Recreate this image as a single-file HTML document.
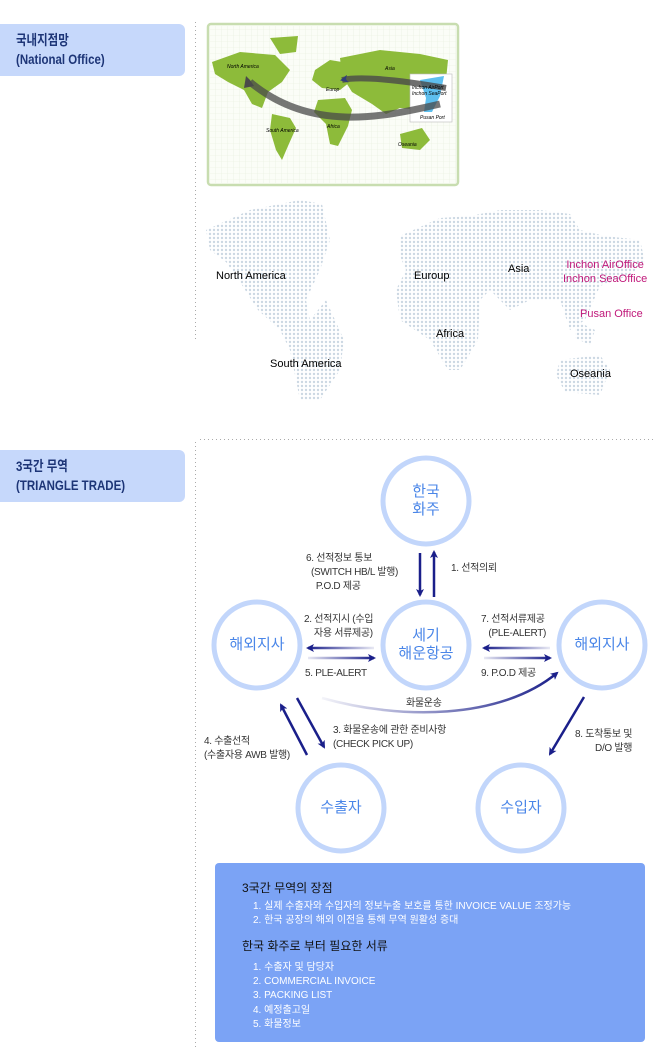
<!DOCTYPE html>
<html><head><meta charset="utf-8"><style>
*{margin:0;padding:0;box-sizing:border-box}
body{width:660px;height:1060px;background:#fff;position:relative;overflow:hidden;font-family:"Liberation Sans","Noto Sans CJK KR",sans-serif}
.tab{position:absolute;left:0;width:185px;height:52px;background:#c6d8fb;border-radius:0 6px 6px 0;color:#1d3577;font-weight:bold;font-size:14px;line-height:19px;padding:7px 0 0 16px}
.tab span{display:inline-block;transform:scaleX(0.82);transform-origin:left;white-space:nowrap}
.t{position:absolute;white-space:nowrap}
</style></head><body>
<div class="tab" style="top:24px"><span>국내지점망</span><br><span>(National Office)</span></div>
<div class="tab" style="top:450px"><span>3국간 무역</span><br><span>(TRIANGLE TRADE)</span></div>

<svg width="660" height="1060" style="position:absolute;left:0;top:0">
<defs>
<pattern id="grid" width="6" height="6" patternUnits="userSpaceOnUse"><path d="M6 0V6H0" fill="none" stroke="#e6eedc" stroke-width="0.6"/></pattern>
<pattern id="dots" width="4" height="4" patternUnits="userSpaceOnUse"><circle cx="2" cy="2" r="1.2" fill="#ccd8e3"/></pattern>
<marker id="ah" markerWidth="8" markerHeight="8" refX="6" refY="4" orient="auto" markerUnits="userSpaceOnUse"><path d="M0 0L8 4L0 8L2 4z" fill="#1a1f8a"/></marker>
<linearGradient id="gL1" gradientUnits="userSpaceOnUse" x1="308" x2="374" y1="0" y2="0"><stop offset="0" stop-color="#1a1f8a"/><stop offset="1" stop-color="#1a1f8a" stop-opacity="0.1"/></linearGradient>
<linearGradient id="gR1" gradientUnits="userSpaceOnUse" x1="308" x2="374" y1="0" y2="0"><stop offset="0" stop-color="#1a1f8a" stop-opacity="0.1"/><stop offset="1" stop-color="#1a1f8a"/></linearGradient>
<linearGradient id="gL2" gradientUnits="userSpaceOnUse" x1="484" x2="550" y1="0" y2="0"><stop offset="0" stop-color="#1a1f8a"/><stop offset="1" stop-color="#1a1f8a" stop-opacity="0.1"/></linearGradient>
<linearGradient id="gR2" gradientUnits="userSpaceOnUse" x1="484" x2="550" y1="0" y2="0"><stop offset="0" stop-color="#1a1f8a" stop-opacity="0.1"/><stop offset="1" stop-color="#1a1f8a"/></linearGradient>
<linearGradient id="gC" gradientUnits="userSpaceOnUse" x1="322" x2="557" y1="0" y2="0"><stop offset="0" stop-color="#1a1f8a" stop-opacity="0.05"/><stop offset="1" stop-color="#1a1f8a"/></linearGradient>
</defs>
<line x1="195.5" y1="22" x2="195.5" y2="342" stroke="#aaa" stroke-dasharray="1 3"/>
<line x1="195.5" y1="442" x2="195.5" y2="1050" stroke="#aaa" stroke-dasharray="1 3"/>
<line x1="200" y1="439.5" x2="656" y2="439.5" stroke="#aaa" stroke-dasharray="1 3"/>
<rect x="208" y="24" width="250" height="161" rx="3" fill="#fbfdf7" stroke="#c8ddb0" stroke-width="2.5"/>
<rect x="210" y="26" width="246" height="157" fill="url(#grid)"/>
<g fill="#8dbb3a">
<path d="M212 62 L240 52 L275 55 L290 70 L282 82 L268 92 L262 108 L252 104 L244 90 L228 82 L215 74z"/>
<path d="M270 38 L298 36 L296 52 L280 54z"/>
<path d="M272 114 L290 118 L296 128 L288 146 L282 160 L276 150 L270 130z"/>
<path d="M315 70 L330 60 L342 62 L350 82 L340 90 L322 88 L312 80z"/>
<path d="M318 100 L345 98 L352 110 L348 126 L338 146 L330 144 L326 124 L314 112z"/>
<path d="M340 58 L380 50 L420 54 L448 60 L446 80 L430 96 L420 110 L400 108 L386 114 L372 104 L352 92 L342 76z"/>
<path d="M400 134 L422 128 L430 140 L420 150 L402 148z"/>
</g>
<rect x="410" y="74" width="42" height="48" fill="#fff" stroke="#bbb" stroke-width="0.6"/>
<path d="M420 80 L444 76 L440 96 L432 112 L424 112 L426 98z" fill="#5ebfee"/>
<path d="M446 88 C400 80 360 76 342 80" stroke="#4a4a4a" stroke-width="6" fill="none" opacity="0.8" marker-end="url(#ah)"/>
<path d="M440 104 C380 118 310 132 250 82" stroke="#4a4a4a" stroke-width="7" fill="none" opacity="0.75"/>
<path d="M250 80 l-4 -4 l-2 12 l10 -2z" fill="#4a4a4a"/>
<g fill="url(#dots)">
<path d="M206 230 L250 210 L300 200 L322 204 L330 240 L320 270 L306 300 L310 320 L326 300 L344 340 L340 370 L320 400 L300 400 L290 350 L280 330 L258 310 L240 282 L226 262 L210 250z"/>
<path d="M400 236 L440 218 L470 216 L500 210 L540 210 L570 214 L580 230 L605 236 L640 240 L645 262 L630 275 L600 286 L585 320 L570 330 L560 300 L530 300 L510 310 L490 290 L480 300 L478 340 L460 370 L448 370 L430 340 L400 320 L396 290 L406 270 L400 256z"/>
<path d="M560 360 L600 355 L610 370 L600 395 L565 392 L556 375z"/>
<path d="M575 320 L595 330 L590 345 L575 338z"/>
</g>
<g fill="#fff" stroke="#c2d6fb" stroke-width="5">
<circle cx="426" cy="501" r="43"/>
<circle cx="426" cy="645" r="43"/>
<circle cx="257" cy="645" r="43"/>
<circle cx="602" cy="645" r="43"/>
<circle cx="341" cy="808" r="43"/>
<circle cx="521" cy="808" r="43"/>
</g>
<g stroke-width="2.5" fill="none">
<line x1="420" y1="553" x2="420" y2="595" stroke="#1a1f8a" marker-end="url(#ah)"/>
<line x1="434" y1="597" x2="434" y2="552" stroke="#1a1f8a" marker-end="url(#ah)"/>
<line x1="374" y1="648" x2="308" y2="648" stroke="url(#gL1)" marker-end="url(#ah)"/>
<line x1="308" y1="658" x2="374" y2="658" stroke="url(#gR1)" marker-end="url(#ah)"/>
<line x1="550" y1="648" x2="484" y2="648" stroke="url(#gL2)" marker-end="url(#ah)"/>
<line x1="484" y1="658" x2="550" y2="658" stroke="url(#gR2)" marker-end="url(#ah)"/>
<path d="M322 698 C400 720 500 720 557 673" stroke="url(#gC)" marker-end="url(#ah)"/>
<line x1="307" y1="755" x2="281" y2="705" stroke="#1a1f8a" marker-end="url(#ah)"/>
<line x1="297" y1="698" x2="324" y2="747" stroke="#1a1f8a" marker-end="url(#ah)"/>
<line x1="584" y1="697" x2="550" y2="754" stroke="#1a1f8a" marker-end="url(#ah)"/>
</g>
<rect x="215" y="863" width="430" height="179" rx="4" fill="#7ba3f5"/>
</svg>

<div class="t" style="left:216px;top:270px;font-size:11px">North America</div>
<div class="t" style="left:270px;top:358px;font-size:11px">South America</div>
<div class="t" style="left:414px;top:270px;font-size:11px">Euroup</div>
<div class="t" style="left:508px;top:263px;font-size:11px">Asia</div>
<div class="t" style="left:436px;top:328px;font-size:11px">Africa</div>
<div class="t" style="left:570px;top:368px;font-size:11px">Oseania</div>
<div class="t" style="left:563px;top:258px;font-size:11px;color:#c0187a;line-height:14px;text-align:center">Inchon AirOffice<br>Inchon SeaOffice</div>
<div class="t" style="left:580px;top:308px;font-size:11px;color:#c0187a">Pusan Office</div>
<div class="t" style="left:227px;top:64px;font-size:5px;font-style:italic">North America</div>
<div class="t" style="left:385px;top:66px;font-size:5px;font-style:italic">Asia</div>
<div class="t" style="left:326px;top:87px;font-size:5px;font-style:italic">Europ</div>
<div class="t" style="left:412px;top:85px;font-size:5px;font-style:italic;line-height:6px">Inchon AirPort<br>Inchon SeaPort</div>
<div class="t" style="left:420px;top:115px;font-size:5px;font-style:italic">Pusan Port</div>
<div class="t" style="left:266px;top:128px;font-size:5px;font-style:italic">South America</div>
<div class="t" style="left:327px;top:124px;font-size:5px;font-style:italic">Africa</div>
<div class="t" style="left:398px;top:142px;font-size:5px;font-style:italic">Oseania</div>

<div style="position:absolute;color:#4a86e8;font-size:15px;line-height:18px;text-align:center">
<div class="t" style="left:396px;top:483px;width:60px">한국<br>화주</div>
<div class="t" style="left:386px;top:627px;width:80px">세기<br>해운항공</div>
<div class="t" style="left:212px;top:636px;width:90px">해외지사</div>
<div class="t" style="left:557px;top:636px;width:90px">해외지사</div>
<div class="t" style="left:296px;top:799px;width:90px">수출자</div>
<div class="t" style="left:476px;top:799px;width:90px">수입자</div>
</div>

<div style="font-size:10px;color:#333;line-height:14px;letter-spacing:-0.3px">
<div class="t" style="left:306px;top:552px">6. 선적정보 통보<br>&nbsp;&nbsp;(SWITCH HB/L 발행)<br>&nbsp;&nbsp;&nbsp;&nbsp;P.O.D 제공</div>
<div class="t" style="left:451px;top:562px">1. 선적의뢰</div>
<div class="t" style="left:304px;top:613px">2. 선적지시 (수입<br>&nbsp;&nbsp;&nbsp;&nbsp;자용 서류제공)</div>
<div class="t" style="left:305px;top:667px">5. PLE-ALERT</div>
<div class="t" style="left:481px;top:613px">7. 선적서류제공<br>&nbsp;&nbsp;&nbsp;(PLE-ALERT)</div>
<div class="t" style="left:481px;top:667px">9. P.O.D 제공</div>
<div class="t" style="left:406px;top:697px">화물운송</div>
<div class="t" style="left:333px;top:724px">3. 화물운송에 관한 준비사항<br>(CHECK PICK UP)</div>
<div class="t" style="left:204px;top:735px">4. 수출선적<br>(수출자용 AWB 발행)</div>
<div class="t" style="left:575px;top:728px;text-align:right">8. 도착통보 및<br>D/O 발행</div>
</div>

<div class="t" style="left:242px;top:879px;font-size:12px;color:#111">3국간 무역의 장점</div>
<div class="t" style="left:253px;top:900px;font-size:10px;color:#fff;line-height:14px">1. 실제 수출자와 수입자의 정보누출 보호를 통한 INVOICE VALUE 조정가능<br>2. 한국 공장의 해외 이전을 통해 무역 원활성 증대</div>
<div class="t" style="left:242px;top:937px;font-size:12px;color:#111">한국 화주로 부터 필요한 서류</div>
<div class="t" style="left:253px;top:961px;font-size:10px;color:#fff;line-height:14.2px">1. 수출자 및 담당자<br>2. COMMERCIAL INVOICE<br>3. PACKING LIST<br>4. 예정출고일<br>5. 화물정보</div>
</body></html>
